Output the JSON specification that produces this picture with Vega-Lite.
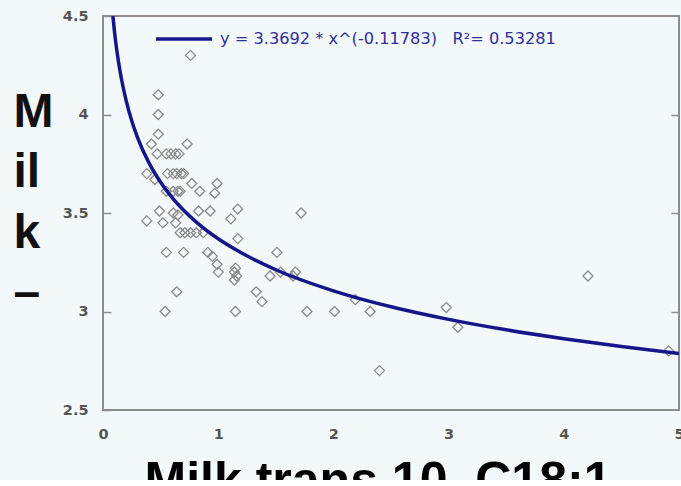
{
  "$schema": "https://vega.github.io/schema/vega-lite/v6.json",
  "width": 576,
  "height": 394,
  "autosize": {"type": "none"},
  "padding": {"left": 103, "top": 16, "right": 2, "bottom": 70},
  "background": "#f3f9fb",
  "config": {
    "view": {"stroke": "#8c8c8c", "strokeWidth": 2, "fill": "#f3f9fb"},
    "font": "Liberation Sans"
  },
  "datasets": {
    "points": [
      {"trans10": 0.76, "milk": 4.30},
      {"trans10": 0.48, "milk": 4.10},
      {"trans10": 0.48, "milk": 4.00},
      {"trans10": 0.48, "milk": 3.90},
      {"trans10": 0.42, "milk": 3.85},
      {"trans10": 0.73, "milk": 3.85},
      {"trans10": 0.47, "milk": 3.80},
      {"trans10": 0.55, "milk": 3.80},
      {"trans10": 0.59, "milk": 3.80},
      {"trans10": 0.63, "milk": 3.80},
      {"trans10": 0.66, "milk": 3.80},
      {"trans10": 0.38, "milk": 3.70},
      {"trans10": 0.56, "milk": 3.70},
      {"trans10": 0.61, "milk": 3.70},
      {"trans10": 0.64, "milk": 3.70},
      {"trans10": 0.68, "milk": 3.70},
      {"trans10": 0.70, "milk": 3.70},
      {"trans10": 0.45, "milk": 3.67},
      {"trans10": 0.77, "milk": 3.65},
      {"trans10": 0.99, "milk": 3.65},
      {"trans10": 0.55, "milk": 3.61},
      {"trans10": 0.61, "milk": 3.61},
      {"trans10": 0.65, "milk": 3.61},
      {"trans10": 0.67, "milk": 3.61},
      {"trans10": 0.84, "milk": 3.61},
      {"trans10": 0.97, "milk": 3.60},
      {"trans10": 1.17, "milk": 3.52},
      {"trans10": 0.49, "milk": 3.51},
      {"trans10": 0.83, "milk": 3.51},
      {"trans10": 0.93, "milk": 3.51},
      {"trans10": 0.61, "milk": 3.50},
      {"trans10": 1.72, "milk": 3.50},
      {"trans10": 0.65, "milk": 3.49},
      {"trans10": 1.11, "milk": 3.47},
      {"trans10": 0.38, "milk": 3.46},
      {"trans10": 0.52, "milk": 3.45},
      {"trans10": 0.63, "milk": 3.45},
      {"trans10": 0.67, "milk": 3.40},
      {"trans10": 0.71, "milk": 3.40},
      {"trans10": 0.76, "milk": 3.40},
      {"trans10": 0.81, "milk": 3.40},
      {"trans10": 0.87, "milk": 3.40},
      {"trans10": 1.17, "milk": 3.37},
      {"trans10": 0.55, "milk": 3.30},
      {"trans10": 0.70, "milk": 3.30},
      {"trans10": 0.91, "milk": 3.30},
      {"trans10": 1.51, "milk": 3.30},
      {"trans10": 0.95, "milk": 3.28},
      {"trans10": 0.99, "milk": 3.24},
      {"trans10": 1.15, "milk": 3.22},
      {"trans10": 1.00, "milk": 3.20},
      {"trans10": 1.14, "milk": 3.20},
      {"trans10": 1.54, "milk": 3.20},
      {"trans10": 1.67, "milk": 3.20},
      {"trans10": 1.16, "milk": 3.18},
      {"trans10": 1.45, "milk": 3.18},
      {"trans10": 1.65, "milk": 3.18},
      {"trans10": 4.21, "milk": 3.18},
      {"trans10": 1.14, "milk": 3.16},
      {"trans10": 0.64, "milk": 3.10},
      {"trans10": 1.33, "milk": 3.10},
      {"trans10": 2.19, "milk": 3.06},
      {"trans10": 1.38, "milk": 3.05},
      {"trans10": 2.98, "milk": 3.02},
      {"trans10": 0.54, "milk": 3.00},
      {"trans10": 1.15, "milk": 3.00},
      {"trans10": 1.77, "milk": 3.00},
      {"trans10": 2.01, "milk": 3.00},
      {"trans10": 2.32, "milk": 3.00},
      {"trans10": 3.08, "milk": 2.92},
      {"trans10": 4.91, "milk": 2.80},
      {"trans10": 2.40, "milk": 2.70}
    ],
    "fit": [
      {"trans10": 0.086, "milk": 4.499, "label": "y = 3.3692 * x^(-0.11783)\u00a0\u00a0\u00a0R²= 0.53281"},
      {"trans10": 0.1, "milk": 4.419, "label": "y = 3.3692 * x^(-0.11783)\u00a0\u00a0\u00a0R²= 0.53281"},
      {"trans10": 0.12, "milk": 4.325, "label": "y = 3.3692 * x^(-0.11783)\u00a0\u00a0\u00a0R²= 0.53281"},
      {"trans10": 0.15, "milk": 4.213, "label": "y = 3.3692 * x^(-0.11783)\u00a0\u00a0\u00a0R²= 0.53281"},
      {"trans10": 0.2, "milk": 4.073, "label": "y = 3.3692 * x^(-0.11783)\u00a0\u00a0\u00a0R²= 0.53281"},
      {"trans10": 0.25, "milk": 3.967, "label": "y = 3.3692 * x^(-0.11783)\u00a0\u00a0\u00a0R²= 0.53281"},
      {"trans10": 0.3, "milk": 3.883, "label": "y = 3.3692 * x^(-0.11783)\u00a0\u00a0\u00a0R²= 0.53281"},
      {"trans10": 0.4, "milk": 3.753, "label": "y = 3.3692 * x^(-0.11783)\u00a0\u00a0\u00a0R²= 0.53281"},
      {"trans10": 0.5, "milk": 3.656, "label": "y = 3.3692 * x^(-0.11783)\u00a0\u00a0\u00a0R²= 0.53281"},
      {"trans10": 0.6, "milk": 3.578, "label": "y = 3.3692 * x^(-0.11783)\u00a0\u00a0\u00a0R²= 0.53281"},
      {"trans10": 0.7, "milk": 3.514, "label": "y = 3.3692 * x^(-0.11783)\u00a0\u00a0\u00a0R²= 0.53281"},
      {"trans10": 0.8, "milk": 3.459, "label": "y = 3.3692 * x^(-0.11783)\u00a0\u00a0\u00a0R²= 0.53281"},
      {"trans10": 1.0, "milk": 3.369, "label": "y = 3.3692 * x^(-0.11783)\u00a0\u00a0\u00a0R²= 0.53281"},
      {"trans10": 1.2, "milk": 3.298, "label": "y = 3.3692 * x^(-0.11783)\u00a0\u00a0\u00a0R²= 0.53281"},
      {"trans10": 1.5, "milk": 3.212, "label": "y = 3.3692 * x^(-0.11783)\u00a0\u00a0\u00a0R²= 0.53281"},
      {"trans10": 2.0, "milk": 3.105, "label": "y = 3.3692 * x^(-0.11783)\u00a0\u00a0\u00a0R²= 0.53281"},
      {"trans10": 2.5, "milk": 3.024, "label": "y = 3.3692 * x^(-0.11783)\u00a0\u00a0\u00a0R²= 0.53281"},
      {"trans10": 3.0, "milk": 2.960, "label": "y = 3.3692 * x^(-0.11783)\u00a0\u00a0\u00a0R²= 0.53281"},
      {"trans10": 3.5, "milk": 2.907, "label": "y = 3.3692 * x^(-0.11783)\u00a0\u00a0\u00a0R²= 0.53281"},
      {"trans10": 4.0, "milk": 2.862, "label": "y = 3.3692 * x^(-0.11783)\u00a0\u00a0\u00a0R²= 0.53281"},
      {"trans10": 4.5, "milk": 2.822, "label": "y = 3.3692 * x^(-0.11783)\u00a0\u00a0\u00a0R²= 0.53281"},
      {"trans10": 5.0, "milk": 2.787, "label": "y = 3.3692 * x^(-0.11783)\u00a0\u00a0\u00a0R²= 0.53281"}
    ]
  },
  "layer": [
    {
      "data": {"name": "points"},
      "mark": {"type": "point", "shape": "diamond", "size": 100, "filled": false, "stroke": "#8a8a8a", "strokeWidth": 1.3, "opacity": 1},
      "encoding": {
        "x": {
          "field": "trans10", "type": "quantitative",
          "scale": {"domain": [0, 5], "nice": false, "zero": false},
          "axis": {
            "values": [0, 1, 2, 3, 4, 5], "format": "d", "grid": false, "domain": false, "ticks": false,
            "labelPadding": 17, "labelFont": "DejaVu Sans", "labelFontSize": 14.5, "labelFontWeight": "bold", "labelColor": "#555555",
            "labelFlush": false, "labelOverlap": false, "labelBaseline": "top",
            "title": "Milk trans 10, C18:1", "titleFontSize": 50, "titleFontWeight": "bold", "titleColor": "#000000",
            "titleAlign": "center", "titleBaseline": "alphabetic", "titleX": 274.5, "titleY": 86.5
          }
        },
        "y": {
          "field": "milk", "type": "quantitative",
          "scale": {"domain": [2.5, 4.5], "nice": false, "zero": false},
          "axis": {
            "orient": "left", "values": [2.5, 3, 3.5, 4, 4.5], "format": "~g", "grid": false, "domain": false,
            "tickSize": -8, "tickColor": "#8c8c8c", "tickWidth": 1.5,
            "labelPadding": 23, "labelFont": "DejaVu Sans", "labelFontSize": 14.5, "labelFontWeight": "bold", "labelColor": "#555555",
            "labelFlush": false, "labelOverlap": false,
            "title": ["M", "il", "k", "–"], "titleAngle": 0, "titleAlign": "left", "titleBaseline": "alphabetic",
            "titleFontSize": 48, "titleFontWeight": "bold", "titleColor": "#111111", "titleLineHeight": 60.5,
            "titleX": -90, "titleY": 110
          }
        }
      }
    },
    {
      "data": {"name": "fit"},
      "mark": {"type": "line", "strokeWidth": 3.5, "clip": true, "interpolate": "monotone"},
      "encoding": {
        "x": {"field": "trans10", "type": "quantitative"},
        "y": {
          "field": "milk", "type": "quantitative",
          "axis": {"orient": "right", "values": [3, 3.5, 4], "labels": false, "grid": false, "domain": false, "title": null,
                   "tickSize": -8, "tickColor": "#8c8c8c", "tickWidth": 1.5}
        },
        "color": {
          "field": "label", "type": "nominal",
          "scale": {"range": ["#16168a"]},
          "legend": {
            "title": null, "orient": "none", "legendX": 51, "legendY": -7,
            "symbolType": "stroke", "symbolSize": 3136, "symbolStrokeWidth": 3.5,
            "labelFont": "DejaVu Sans", "labelFontSize": 16.2, "labelColor": "#2e2e9e", "labelOffset": 6, "labelLimit": 500, "padding": 0
          }
        }
      }
    }
  ],
  "resolve": {"axis": {"y": "independent"}}
}
